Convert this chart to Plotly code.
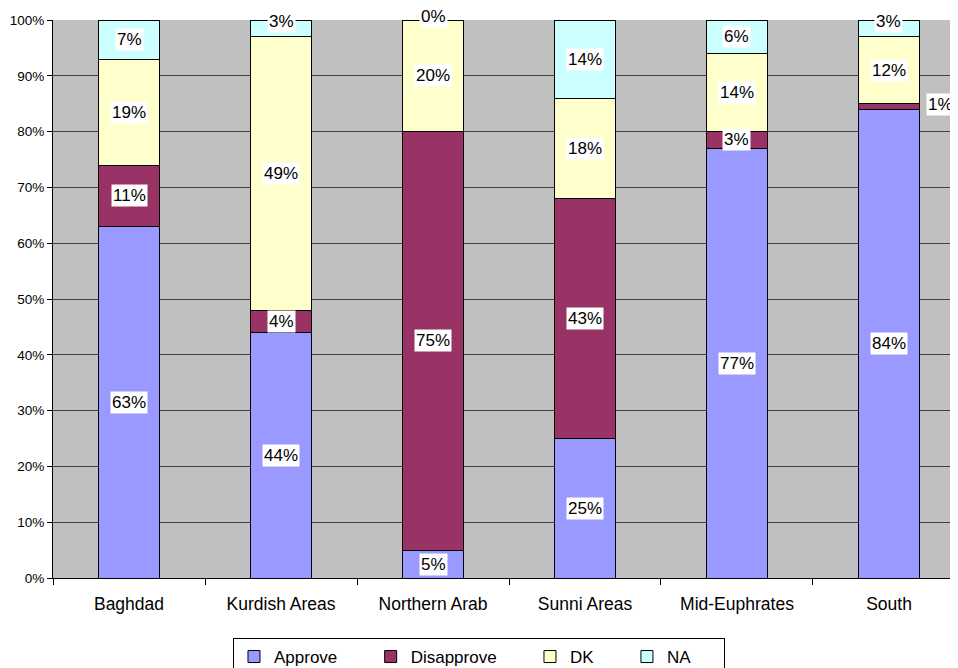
import plotly.graph_objects as go

categories = ["Baghdad", "Kurdish Areas", "Northern Arab", "Sunni Areas", "Mid-Euphrates", "South"]
approve = [63, 44, 5, 25, 77, 84]
disapprove = [11, 4, 75, 43, 3, 1]
dk = [19, 49, 20, 18, 14, 12]
na = [7, 3, 0, 14, 6, 3]
series_names = ["Approve", "Disapprove", "DK", "NA"]
series_colors = ["#9999FF", "#993366", "#FFFFCC", "#CCFFFF"]
y_ticks = [0, 10, 20, 30, 40, 50, 60, 70, 80, 90, 100]
y_tick_labels = [f"{v}%" for v in y_ticks]

# label pixel offsets (style only): (series index, category index) -> (xshift, yshift)
label_shifts = {(3, 1): (0, 7), (3, 2): (0, 4), (3, 5): (0, 7), (1, 5): (52, 2)}
LEGEND_PAD = "\u00a0" * 6

FONT = "Liberation Sans, Arial, sans-serif"
series_values = [approve, disapprove, dk, na]

fig = go.Figure()
for name, vals, col in zip(series_names, series_values, series_colors):
    fig.add_trace(go.Bar(
        x=categories, y=vals, name=name + LEGEND_PAD, width=0.4,
        marker=dict(color=col, line=dict(color="#000000", width=1)),
    ))

annotations = []
for ci, cat in enumerate(categories):
    base = 0
    for si, vals in enumerate(series_values):
        v = vals[ci]
        center = base + v / 2
        xs, ys = label_shifts.get((si, ci), (0, 0))
        annotations.append(dict(
            x=cat, y=center, xref="x", yref="y", text=f"{v}%", showarrow=False,
            font=dict(family=FONT, size=17, color="#000000"),
            bgcolor="#FFFFFF", borderpad=1, xshift=xs, yshift=ys,
        ))
        base += v

# page body adds an 8px offset, so margins are reduced accordingly
fig.update_layout(
    barmode="stack",
    width=958, height=668,
    margin=dict(l=45, r=8, t=12, b=98, autoexpand=False),
    paper_bgcolor="#FFFFFF",
    plot_bgcolor="#C0C0C0",
    font=dict(family=FONT, size=17, color="#000000"),
    annotations=annotations,
    legend=dict(
        orientation="h", x=0.4707, xanchor="center", y=-0.1075, yanchor="top",
        bgcolor="#FFFFFF", bordercolor="#000000", borderwidth=1,
        font=dict(family=FONT, size=17, color="#000000"),
        traceorder="normal", itemclick=False, itemwidth=30,
    ),
    showlegend=True,
)
fig.update_xaxes(
    range=[-0.5, 5.454], showgrid=False, showline=True, linecolor="#000000", linewidth=1,
    ticks="outside", tickson="boundaries", ticklen=6, tickcolor="#000000",
    tickfont=dict(family=FONT, size=17.5), ticklabelstandoff=10, automargin=False,
)
fig.update_yaxes(
    range=[0, 100], tickvals=y_ticks, ticktext=y_tick_labels,
    showgrid=True, gridcolor="#404040", gridwidth=1,
    showline=True, linecolor="#000000", linewidth=1,
    ticks="outside", ticklen=5, tickcolor="#000000",
    tickfont=dict(family=FONT, size=13.5), zeroline=False, automargin=False,
)

fig.write_html("out.html")
